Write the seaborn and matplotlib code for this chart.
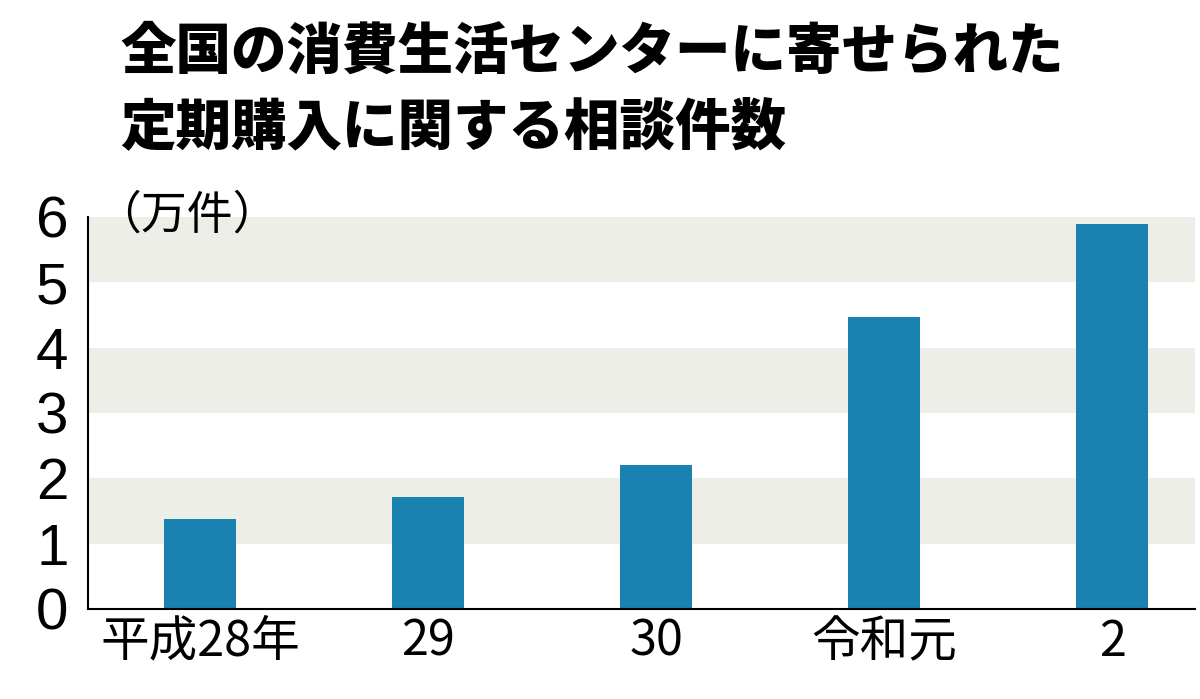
import matplotlib
matplotlib.use("Agg")
import matplotlib.pyplot as plt
import seaborn as sns
import pandas as pd

categories = ["平成28年", "29", "30", "令和元", "2"]
values = [1.37, 1.71, 2.21, 4.47, 5.89]
yticks = [0, 1, 2, 3, 4, 5, 6]

sns.set_style("white")
plt.rcParams['font.family'] = ['Noto Sans CJK JP', 'DejaVu Sans']
plt.rcParams['text.color'] = 'black'
plt.rcParams['xtick.color'] = 'black'
plt.rcParams['ytick.color'] = 'black'

fig = plt.figure(figsize=(12, 6.99), dpi=100)
ax = fig.add_axes([0.0733, 0.1288, 0.9227, 0.5608])
for lo in (1, 3, 5):
    ax.axhspan(lo, lo + 1, color="#eeeee8", zorder=0, lw=0)
df = pd.DataFrame({"cat": categories, "val": values})
sns.barplot(data=df, x="cat", y="val", color="#1a82b0", saturation=1, width=0.316,
            ax=ax, zorder=2, linewidth=0)
ax.set_xlim(-0.491, 4.364)
ax.set_ylim(0, 6)
ax.set_yticks(yticks)
ax.set_yticklabels([str(t) for t in yticks], fontsize=42, family=['Liberation Sans', 'DejaVu Sans'])
for lab in ax.get_xticklabels():
    lab.set_fontsize(35)
ax.set_xlabel("")
ax.set_ylabel("")
ax.tick_params(axis="y", direction="out", length=12, width=1.5, pad=2)
ax.tick_params(axis="x", length=0, pad=6)
for s in ("top", "right"):
    ax.spines[s].set_visible(False)
for s in ("left", "bottom"):
    ax.spines[s].set_color("black")
    ax.spines[s].set_linewidth(1.5)
ax.text(-0.46, 6.03, "（万件）", fontsize=33, ha="left", va="center")

fig.text(0.1, 0.925, "全国の消費生活センターに寄せられた", fontsize=40, fontweight="black", va="center", ha="left")
fig.text(0.1, 0.818, "定期購入に関する相談件数", fontsize=40, fontweight="black", va="center", ha="left")
fig.savefig("out.png", dpi=100)
